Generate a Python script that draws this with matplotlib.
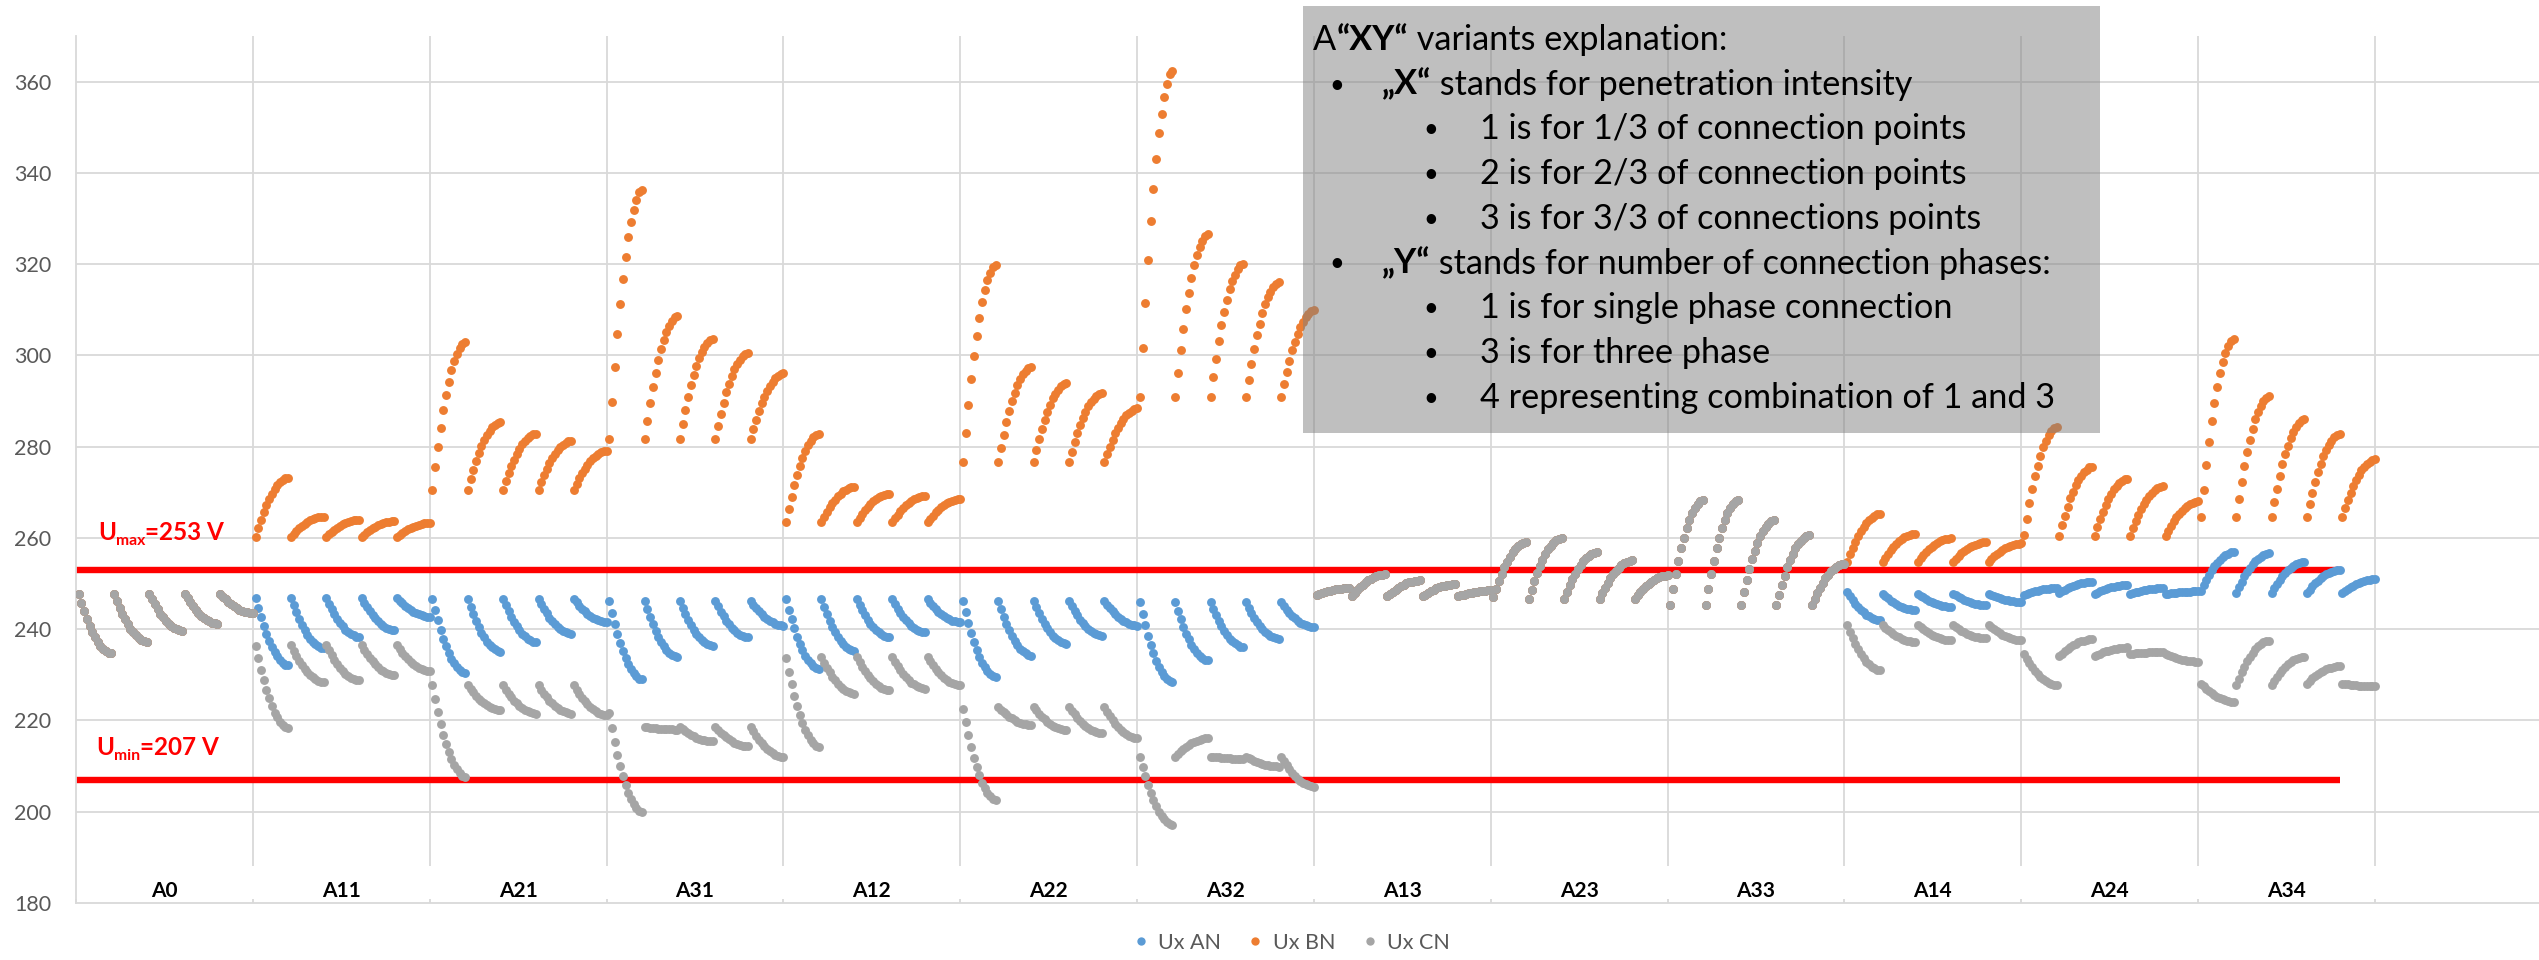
import numpy as np
import matplotlib.pyplot as plt
from matplotlib.lines import Line2D
from matplotlib.patches import Rectangle

plt.rcParams['font.family'] = ['Lato', 'DejaVu Sans']

variants = ['A0', 'A11', 'A21', 'A31', 'A12', 'A22', 'A32', 'A13', 'A23', 'A33', 'A14', 'A24', 'A34']

profile = [0, 0.15, 0.29, 0.42, 0.54, 0.64, 0.73, 0.81, 0.87, 0.92, 0.96, 0.99, 1.0]

# first / last voltage of the 5 runs of every variant [V]
an_start = [[247.8, 247.8, 247.8, 247.8, 247.8],
            [246.9, 246.9, 246.9, 246.9, 246.9],
            [246.7, 246.7, 246.7, 246.7, 246.7],
            [246.2, 246.2, 246.2, 246.2, 246.2],
            [246.6, 246.6, 246.6, 246.6, 246.6],
            [246.2, 246.2, 246.2, 246.2, 246.2],
            [245.9, 245.9, 245.9, 245.9, 245.9],
            [247.5, 247.2, 247.2, 247.2, 247.2],
            [247.1, 246.7, 246.7, 246.7, 246.7],
            [245.3, 245.3, 245.3, 245.3, 245.3],
            [248.2, 247.8, 247.8, 247.8, 247.8],
            [247.5, 247.9, 247.7, 247.7, 247.7],
            [248.3, 247.9, 247.9, 247.9, 247.9]]
an_end = [[234.7, 237.3, 239.7, 241.2, 243.5],
          [232.1, 235.8, 238.3, 239.8, 242.7],
          [230.5, 235.1, 237.2, 239.0, 241.5],
          [229.0, 233.9, 236.4, 238.2, 240.8],
          [231.3, 235.3, 238.2, 239.3, 241.5],
          [229.5, 234.2, 236.8, 238.6, 240.8],
          [228.4, 233.2, 236.1, 237.9, 240.4],
          [249.0, 252.0, 250.7, 249.9, 248.5],
          [259.1, 260.0, 256.9, 255.1, 251.8],
          [268.4, 268.4, 263.9, 260.6, 254.4],
          [242.0, 244.2, 244.9, 245.3, 246.0],
          [249.0, 250.4, 249.7, 249.0, 248.3],
          [256.9, 256.6, 254.8, 253.0, 251.0]]

bn_start = [[247.8, 247.8, 247.8, 247.8, 247.8],
            [260.2, 260.2, 260.2, 260.2, 260.2],
            [270.6, 270.6, 270.6, 270.6, 270.6],
            [281.7, 281.7, 281.7, 281.7, 281.7],
            [263.4, 263.4, 263.4, 263.4, 263.4],
            [276.6, 276.6, 276.6, 276.6, 276.6],
            [290.8, 290.8, 290.8, 290.8, 290.8],
            [247.5, 247.2, 247.2, 247.2, 247.2],
            [247.1, 246.7, 246.7, 246.7, 246.7],
            [245.3, 245.3, 245.3, 245.3, 245.3],
            [254.8, 254.8, 254.8, 254.8, 254.8],
            [260.7, 260.5, 260.5, 260.5, 260.5],
            [264.6, 264.6, 264.6, 264.6, 264.6]]
bn_end = [[234.7, 237.3, 239.7, 241.2, 243.5],
          [273.2, 264.7, 264.0, 263.7, 263.3],
          [302.9, 285.4, 282.8, 281.3, 279.1],
          [336.3, 308.6, 303.5, 300.6, 296.1],
          [282.8, 271.2, 269.7, 269.3, 268.6],
          [319.9, 297.5, 293.9, 291.7, 288.4],
          [362.3, 326.6, 320.0, 316.0, 309.9],
          [249.0, 252.0, 250.7, 249.9, 248.5],
          [259.1, 260.0, 256.9, 255.1, 251.8],
          [268.4, 268.4, 263.9, 260.6, 254.4],
          [265.3, 260.9, 259.9, 259.1, 258.8],
          [284.4, 275.6, 273.0, 271.3, 268.0],
          [303.6, 291.0, 286.0, 282.8, 277.2]]

cn_start = [[247.8, 247.8, 247.8, 247.8, 247.8],
            [236.4, 236.5, 236.5, 236.5, 236.5],
            [227.7, 227.7, 227.7, 227.7, 227.7],
            [221.6, 218.6, 218.6, 218.6, 218.6],
            [233.6, 233.9, 233.9, 233.9, 233.9],
            [222.6, 223.0, 223.0, 223.0, 223.0],
            [212.1, 212.1, 212.1, 212.1, 212.1],
            [247.5, 247.2, 247.2, 247.2, 247.2],
            [247.1, 246.7, 246.7, 246.7, 246.7],
            [245.3, 245.3, 245.3, 245.3, 245.3],
            [240.9, 240.9, 240.9, 240.9, 240.9],
            [234.6, 234.1, 234.1, 234.6, 234.6],
            [228.1, 227.7, 227.7, 228.1, 228.1]]
cn_end = [[234.7, 237.3, 239.7, 241.2, 243.5],
          [218.3, 228.4, 228.8, 229.9, 230.8],
          [207.7, 222.3, 221.5, 221.5, 221.2],
          [200.0, 218.0, 215.4, 214.3, 212.0],
          [214.2, 225.9, 226.6, 227.0, 227.7],
          [202.6, 219.0, 217.9, 217.2, 216.1],
          [197.1, 216.1, 211.6, 209.9, 205.5],
          [249.0, 252.0, 250.7, 249.9, 248.5],
          [259.1, 260.0, 256.9, 255.1, 251.8],
          [268.4, 268.4, 263.9, 260.6, 254.4],
          [231.0, 237.2, 237.6, 238.0, 237.6],
          [227.7, 237.8, 236.0, 235.0, 232.9],
          [224.1, 237.5, 234.0, 231.9, 227.5]]

u_max = 253
u_min = 207
limit_points = 832   # the limit lines stop before the last run

series = ['Ux AN', 'Ux BN', 'Ux CN']
colors = ['#5B9BD5', '#ED7D31', '#A5A5A5']


def build(starts, ends):
    vals = []
    for row_s, row_e in zip(starts, ends):
        for s, e in zip(row_s, row_e):
            vals += [s + (e - s) * p for p in profile]
    return np.array(vals)


ux = [build(an_start, an_end), build(bn_start, bn_end), build(cn_start, cn_end)]
x = np.arange(len(ux[0])) + 1
per_group = 5 * len(profile)

W, H = 2539, 960
fig = plt.figure(figsize=(W / 100, H / 100), dpi=100)
ax = fig.add_axes([76 / W, 57 / H, 1 - 76 / W, (903 - 36) / H])
xmax = (W - 76) / ((2375 - 76) / 13 / per_group)
ax.set_xlim(0, xmax)
ax.set_ylim(180, 370)

grid = '#D9D9D9'
ax.hlines(range(200, 361, 20), 0, xmax, color=grid, lw=1.3, zorder=1)
bounds = [per_group * g for g in range(1, len(variants) + 1)]
ax.vlines(bounds, 188, 370, color=grid, lw=1.3, zorder=1)
for s in ['top', 'right']:
    ax.spines[s].set_visible(False)
for s in ['left', 'bottom']:
    ax.spines[s].set_color(grid)
    ax.spines[s].set_linewidth(1.3)

ax.set_yticks(range(180, 361, 20))
ax.tick_params(axis='y', length=0, pad=18, labelsize=15.5, labelcolor='#595959')
ax.set_xticks([0] + bounds)
ax.set_xticklabels([])
ax.tick_params(axis='x', direction='in', length=3, width=1.3, color=grid)

for name, vals, c in zip(series, ux, colors):
    ax.plot(x, vals, 'o', ls='none', color=c, ms=6.4, mec='none', zorder=3, label=name)

ax.hlines([u_max, u_min], 0, limit_points, color='#FF0000', lw=4.6, zorder=2)

for g, name in enumerate(variants):
    ax.text(per_group * (g + 0.5), 181.3, name, ha='center', va='baseline',
            fontsize=15, fontweight='bold', color='black')

r = fig.canvas.get_renderer()


def put(parts, x_px, base_px, size, color='black', zorder=6):
    # parts: (text, bold, size factor, baseline shift in px)
    for s, bold, f, dy in parts:
        t = fig.text(x_px / W, 1 - (base_px + dy) / H, s, fontsize=size * f,
                     fontweight='bold' if bold else 'normal', color=color,
                     va='baseline', ha='left', zorder=zorder)
        x_px = t.get_window_extent(r).x1
    return x_px


# limit labels
put([('U', True, 1, 0), ('max', True, 0.65, 5), ('=253 V', True, 1, 0)], 98, 540, 17.5, color='#FF0000')
put([('U', True, 1, 0), ('min', True, 0.65, 5), ('=207 V', True, 1, 0)], 96, 755, 17.5, color='#FF0000')

# explanation box
box = Rectangle((1303 / W, 1 - 433 / H), (2100 - 1303) / W, (433 - 6) / H,
                transform=fig.transFigure, facecolor='#808080', alpha=0.5,
                edgecolor='none', zorder=5)
fig.add_artist(box)

probe = fig.text(0, 0, '4 representing combination of 1 and 3', fontsize=20)
fs = 20 * 576 / probe.get_window_extent(r).width
probe.remove()

bullet = [('\u2022', False, 0.75, -2)]
b = [50, 94.7, 139.4, 184.1, 228.8, 273.5, 318.2, 362.9, 407.6]
put([('A', False, 1, 0), ('\u201cXY\u201c', True, 1, 0), (' variants explanation:', False, 1, 0)], 1313, b[0], fs)
put(bullet, 1329, b[1], fs)
put([('\u201eX\u201c', True, 1, 0), (' stands for penetration intensity', False, 1, 0)], 1382, b[1], fs)
sub_x = ['1 is for 1/3 of connection points',
         '2 is for 2/3 of connection points',
         '3 is for 3/3 of connections points']
for i, s in enumerate(sub_x):
    put(bullet, 1423, b[2 + i], fs)
    put([(s, False, 1, 0)], 1480, b[2 + i], fs)
put(bullet, 1329, b[5], fs)
put([('\u201eY\u201c', True, 1, 0), (' stands for number of connection phases:', False, 1, 0)], 1382, b[5], fs)
sub_y = ['1 is for single phase connection',
         '3 is for three phase',
         '4 representing combination of 1 and 3']
for i, s in enumerate(sub_y):
    put(bullet, 1423, b[6 + i], fs)
    put([(s, False, 1, 0)], 1480, b[6 + i], fs)

handles = [Line2D([], [], marker='o', ls='none', color=c, ms=6, mec='none') for c in colors]
fig.legend(handles, series, loc='center', bbox_to_anchor=(1292 / W, 1 - 943 / H), ncol=3,
           frameon=False, fontsize=15.5, labelcolor='#595959', handlelength=0.6,
           handletextpad=0.5, columnspacing=1.3)

fig.savefig('out.png', dpi=100)
